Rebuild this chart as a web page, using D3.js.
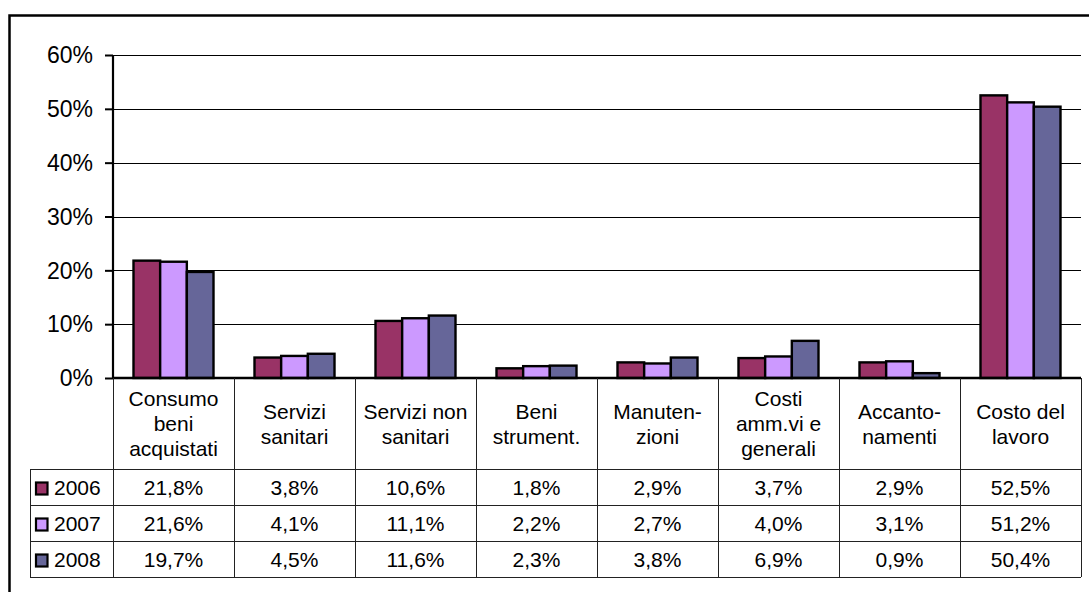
<!DOCTYPE html>
<html>
<head>
<meta charset="utf-8">
<script src="https://cdn.jsdelivr.net/npm/d3@7"></script>
<style>
  body { margin: 0; background: #fff; }
  svg { display: block; font-family: "Liberation Sans", Arial, sans-serif; }
</style>
</head>
<body>
<div class="chart"></div>
<script>

///////////////////////////////////////////////////////////////////////////
////////////////////////////////// Data ///////////////////////////////////
///////////////////////////////////////////////////////////////////////////

var categories = [
  ["Consumo", "beni", "acquistati"],
  ["Servizi", "sanitari"],
  ["Servizi non", "sanitari"],
  ["Beni", "strument."],
  ["Manuten-", "zioni"],
  ["Costi", "amm.vi e", "generali"],
  ["Accanto-", "namenti"],
  ["Costo del", "lavoro"]
]
var years = ["2006", "2007", "2008"]
var values2006 = [21.8, 3.8, 10.6, 1.8, 2.9, 3.7, 2.9, 52.5]
var values2007 = [21.6, 4.1, 11.1, 2.2, 2.7, 4.0, 3.1, 51.2]
var values2008 = [19.7, 4.5, 11.6, 2.3, 3.8, 6.9, 0.9, 50.4]
var yTicks = [0, 10, 20, 30, 40, 50, 60]
var colors = ["#993366", "#CC99FF", "#666699"]

var series = [values2006, values2007, values2008]

///////////////////////////////////////////////////////////////////////////
///////////////////////////////// Globals /////////////////////////////////
///////////////////////////////////////////////////////////////////////////

var width = 1089, height = 592
var plot = { left: 113, right: 1081, top: 55, bottom: 378 }
var tableLeft = 30
var rowH = 36
var headerBottom = 469

var locale = d3.formatLocale({ decimal: ",", thousands: ".", grouping: [3], currency: ["", "€"] })
var fmt = locale.format(".1f")

var svg = d3.select(".chart").append("svg")
  .attr("width", width)
  .attr("height", height)

// outer chart frame (cut by the picture on right and bottom)
svg.append("rect")
  .attr("x", 9.5).attr("y", 15.5)
  .attr("width", 1100).attr("height", 600)
  .attr("fill", "none")
  .attr("stroke", "#000")
  .attr("stroke-width", 2.5)

///////////////////////////////////////////////////////////////////////////
///////////////////////////// Create scales ///////////////////////////////
///////////////////////////////////////////////////////////////////////////

var x0 = d3.scaleBand()
  .domain(d3.range(categories.length))
  .range([plot.left, plot.right])

var groupPad = 20.5
var x1 = d3.scaleBand()
  .domain(years)
  .range([groupPad, x0.bandwidth() - groupPad])

var y = d3.scaleLinear()
  .domain([0, 60])
  .range([plot.bottom, plot.top])

///////////////////////////////////////////////////////////////////////////
///////////////////////////// Grid and axis ///////////////////////////////
///////////////////////////////////////////////////////////////////////////

svg.append("g").selectAll("line")
  .data(yTicks.filter(d => d > 0))
  .enter().append("line")
    .attr("x1", plot.left).attr("x2", plot.right)
    .attr("y1", d => Math.round(y(d)) + 0.5)
    .attr("y2", d => Math.round(y(d)) + 0.5)
    .attr("stroke", "#000")
    .attr("stroke-width", 1)

var yAxis = svg.append("g")
  .attr("transform", "translate(" + plot.left + ",0)")
  .call(d3.axisLeft(y).tickValues(yTicks).tickSize(8).tickPadding(12)
    .tickFormat(d => d + "%"))

yAxis.select(".domain").remove()
yAxis.selectAll(".tick line").attr("stroke", "#000").attr("stroke-width", 2)
yAxis.selectAll(".tick text")
  .attr("font-size", 23)
  .attr("fill", "#000")
  .attr("dy", "0.34em")
  .attr("font-family", "Liberation Sans, Arial, sans-serif")

///////////////////////////////////////////////////////////////////////////
////////////////////////////////// Bars ///////////////////////////////////
///////////////////////////////////////////////////////////////////////////

var groups = svg.append("g").selectAll("g")
  .data(categories)
  .enter().append("g")
    .attr("transform", (d, i) => "translate(" + x0(i) + ",0)")

groups.selectAll("rect")
  .data((d, i) => series.map((s, j) => ({ year: years[j], value: s[i], color: colors[j] })))
  .enter().append("rect")
    .attr("x", d => x1(d.year))
    .attr("width", x1.bandwidth())
    .attr("y", d => y(d.value))
    .attr("height", d => y(0) - y(d.value))
    .attr("fill", d => d.color)
    .attr("stroke", "#000")
    .attr("stroke-width", 2.4)

// y axis line and base line
svg.append("line")
  .attr("x1", plot.left).attr("x2", plot.left)
  .attr("y1", plot.top).attr("y2", plot.bottom)
  .attr("stroke", "#000").attr("stroke-width", 2.2)

svg.append("line")
  .attr("x1", plot.left).attr("x2", plot.right)
  .attr("y1", plot.bottom).attr("y2", plot.bottom)
  .attr("stroke", "#000").attr("stroke-width", 2.5)

///////////////////////////////////////////////////////////////////////////
////////////////////////////////// Table //////////////////////////////////
///////////////////////////////////////////////////////////////////////////

var table = svg.append("g")
var tableBottom = headerBottom + rowH * years.length
var lineColor = "#222"

// vertical lines of the table
table.selectAll(".vline")
  .data(d3.range(categories.length + 1))
  .enter().append("line")
    .attr("class", "vline")
    .attr("x1", d => Math.round(d < categories.length ? x0(d) : plot.right) + 0.5)
    .attr("x2", d => Math.round(d < categories.length ? x0(d) : plot.right) + 0.5)
    .attr("y1", plot.bottom)
    .attr("y2", tableBottom)
    .attr("stroke", lineColor)

table.append("line")
  .attr("x1", tableLeft + 0.5).attr("x2", tableLeft + 0.5)
  .attr("y1", headerBottom).attr("y2", tableBottom)
  .attr("stroke", lineColor)

table.selectAll(".hline")
  .data(d3.range(years.length + 1))
  .enter().append("line")
    .attr("class", "hline")
    .attr("x1", tableLeft).attr("x2", plot.right)
    .attr("y1", d => headerBottom + d * rowH + 0.5)
    .attr("y2", d => headerBottom + d * rowH + 0.5)
    .attr("stroke", lineColor)

// category labels
var lineH = 25
table.selectAll(".cat")
  .data(categories)
  .enter().append("text")
    .attr("class", "cat")
    .attr("text-anchor", "middle")
    .attr("font-size", 21)
    .attr("fill", "#000")
    .each(function(d, i) {
      var cx = x0(i) + x0.bandwidth() / 2
      var cy = (plot.bottom + headerBottom) / 2
      var startY = cy - (d.length - 1) * lineH / 2 + 7.5
      d3.select(this).selectAll("tspan")
        .data(d)
        .enter().append("tspan")
          .attr("x", cx)
          .attr("y", (t, k) => startY + k * lineH)
          .text(t => t)
    })

// rows: legend key + values
var rows = table.selectAll(".row")
  .data(series)
  .enter().append("g")
    .attr("class", "row")
    .attr("transform", (d, i) => "translate(0," + (headerBottom + i * rowH) + ")")

rows.append("rect")
  .attr("x", 36).attr("y", 13.5)
  .attr("width", 11.5).attr("height", 12)
  .attr("fill", (d, i) => colors[i])
  .attr("stroke", "#000")
  .attr("stroke-width", 2.2)

rows.append("text")
  .attr("x", 54).attr("y", rowH / 2 + 8)
  .attr("font-size", 21)
  .attr("fill", "#000")
  .text((d, i) => years[i])

rows.selectAll(".val")
  .data(d => d)
  .enter().append("text")
    .attr("class", "val")
    .attr("x", (d, i) => x0(i) + x0.bandwidth() / 2)
    .attr("y", rowH / 2 + 7.5)
    .attr("text-anchor", "middle")
    .attr("font-size", 21)
    .attr("fill", "#000")
    .text(d => fmt(d) + "%")

</script>
</body>
</html>
